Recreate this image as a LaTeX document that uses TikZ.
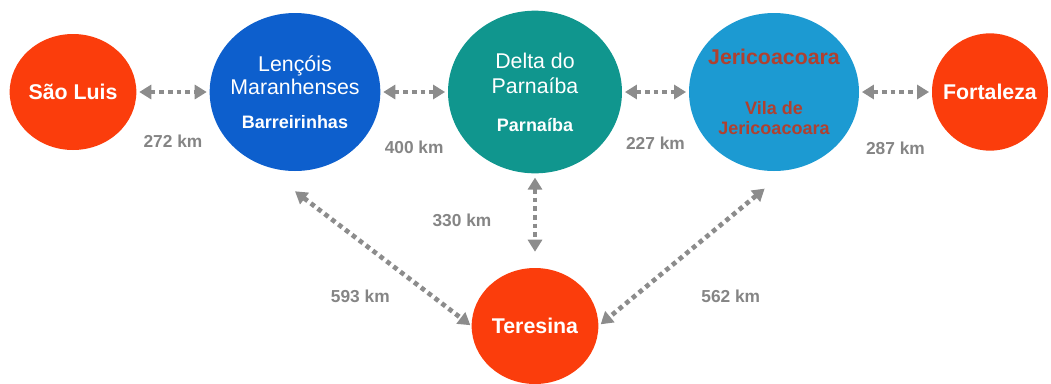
\documentclass[tikz,border=0pt]{standalone}
\usepackage{fontspec}
\setmainfont{Liberation Sans}
\usetikzlibrary{positioning,shapes.geometric,arrows.meta}
\definecolor{cityred}{HTML}{FB3D0C}
\definecolor{lmblue}{HTML}{0D5FCD}
\definecolor{dpteal}{HTML}{10968E}
\definecolor{jcblue}{HTML}{1C9AD2}
\definecolor{jctext}{HTML}{B0402F}
\definecolor{linkgray}{HTML}{8C8C8C}
\definecolor{kmgray}{HTML}{858585}
\newcommand{\subname}{\fontsize{13.5}{15}\bfseries\selectfont}
\begin{document}
\begin{tikzpicture}[
    city/.style={ellipse,fill=#1,text=white,inner sep=-10pt,align=center,
      font=\fontsize{16}{17}\selectfont},
    dims/.style 2 args={minimum width=#1,minimum height=#2},
    bigname/.style={font=\fontsize{16}{17}\bfseries\selectfont},
    link/.style={draw=linkgray,line width=3.5pt,dash pattern=on 3.5pt off 3pt,
      {Triangle[length=9pt,width=10.5pt]}-{Triangle[length=9pt,width=10.5pt]},
      shorten <=2pt,shorten >=2pt},
    km/.style={text=kmgray,inner sep=0pt,font=\fontsize{13}{14}\bfseries\selectfont}]
    \useasboundingbox (0,0) rectangle (788.25pt,-287.25pt);

    \node[city=cityred,dims={95pt}{87pt},bigname] (sl) at (54.75pt,-69pt) {São Luis};
    \node[city=lmblue,dims={128pt}{118.5pt}] (lm) [right of=sl,node distance=166.5pt]
      {Lençóis\\Maranhenses\\[8.5pt]\subname Barreirinhas};
    \node[city=dpteal,dims={130.5pt}{122pt}] (dp) [right of=lm,node distance=180pt]
      {Delta do\\[1.75pt]Parnaíba\\[11.5pt]\subname Parnaíba};
    \node[city=jcblue,dims={127.5pt}{118.5pt},text=jctext,bigname] (jc) [right of=dp,node distance=179.25pt]
      {Jericoacoara\\[20.5pt]\subname Vila de\\[-2pt]\subname Jericoacoara};
    \node[city=cityred,dims={87pt}{88pt},bigname] (fo) [right of=jc,node distance=162pt] {Fortaleza};
    \node[city=cityred,dims={95pt}{87pt},bigname] (te) [below of=dp,node distance=175.5pt] {Teresina};

    \draw[link] (sl) -- node[km,below=30.75pt] {272 km} (lm);
    \draw[link] (lm) -- node[km,below=35.25pt] {400 km} (dp);
    \draw[link] (dp) -- node[km,below=32.25pt] {227 km} (jc);
    \draw[link] (jc) -- node[km,below=36pt] {287 km} (fo);

    \draw[link,shorten <=3pt,shorten >=12pt] (dp) -- node[km,left=31pt] {330 km} (te);
    \draw[link,shorten <=0pt,shorten >=1pt] ([yshift=-15pt]lm.south) --
      node[km,pos=0.6,below left=11.5pt and 6.6pt] {593 km} (te.west);
    \draw[link,shorten <=0pt] ([xshift=-7pt,yshift=-13pt]jc.south) --
      node[km,pos=0.6,below right=12.5pt and 25.5pt] {562 km} (te.east);
\end{tikzpicture}
\end{document}
